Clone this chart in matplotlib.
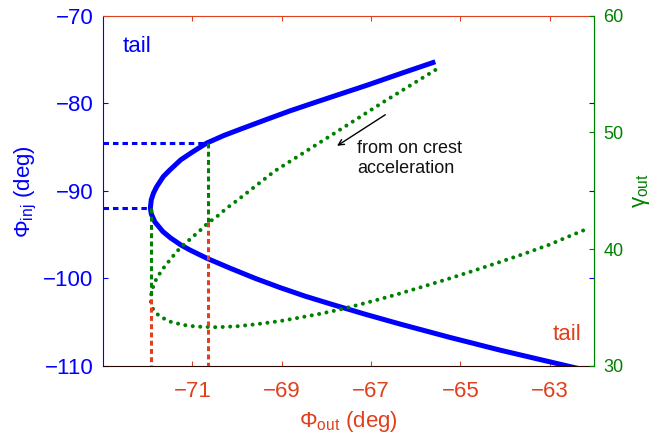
import matplotlib
matplotlib.use("Agg")
import matplotlib.pyplot as plt

plt.rcParams["font.family"] = "Liberation Sans"
plt.rcParams["mathtext.fontset"] = "custom"
plt.rcParams["mathtext.rm"] = "Liberation Sans"
plt.rcParams["mathtext.it"] = "Liberation Sans:italic"
plt.rcParams["mathtext.bf"] = "Liberation Sans:bold"

BLUE = "#0000ff"
GREEN = "#008000"
RED = "#e0401e"

# injection phase vs output phase (blue curve)
phi_out_blue = [-65.56, -66.35, -67.09, -67.69, -68.21, -68.81, -69.33, -69.93,
                -70.31, -70.68, -70.99, -71.26, -71.50, -71.65, -71.80, -71.87,
                -71.92, -71.94, -71.92, -71.84, -71.66, -71.49, -71.26, -71.06,
                -70.68, -70.16, -69.60, -69.04, -68.48, -67.91, -67.13, -66.35,
                -65.23, -64.11, -62.60, -62.18]
phi_inj_blue = [-75.26, -76.63, -77.94, -78.95, -79.83, -80.86, -81.83, -82.97,
                -83.71, -84.55, -85.54, -86.46, -87.60, -88.37, -89.54, -90.26,
                -91.03, -91.94, -92.63, -93.54, -94.65, -95.37, -96.17, -96.74,
                -97.69, -98.82, -99.98, -101.04, -102.02, -102.91, -104.09, -105.21,
                -106.74, -108.19, -110.0, -110.5]

# output energy vs output phase (green dots)
phi_out_green = [-65.56, -66.68, -67.91, -69.15, -70.0, -70.23, -70.45, -70.64,
                 -70.83, -71.05, -71.20, -71.35, -71.50, -71.65, -71.80, -71.89,
                 -71.911, -71.927, -71.931, -71.927, -71.907, -71.873, -71.79, -71.72,
                 -71.50, -71.20, -70.90, -70.45, -70.0, -69.56, -69.03, -68.59,
                 -68.14, -67.76, -67.47, -66.94, -66.42, -65.88, -65.32, -64.75,
                 -64.18, -63.58, -63.0, -62.60, -62.19]
gamma_out = [55.35, 52.71, 49.71, 46.71, 44.17, 43.52, 42.8, 42.28,
             41.6, 40.86, 40.37, 39.8, 39.09, 38.37, 37.52, 36.66,
             36.34, 36.0, 35.74, 35.49, 35.14, 34.80, 34.46, 34.23,
             33.80, 33.51, 33.37, 33.32, 33.40, 33.58, 33.85, 34.15,
             34.47, 34.78, 35.05, 35.58, 36.13, 36.75, 37.4, 38.1,
             38.82, 39.6, 40.4, 41.05, 41.7]

# guide lines: blue curve point -> green point -> x axis
guide_phi_out = [-70.66, -71.93]
guide_phi_inj = [-84.55, -91.94]
guide_gamma = [42.3, 35.74]

x_ticks = [-71, -69, -67, -65, -63]
inj_ticks = [-110, -100, -90, -80, -70]
gamma_ticks = [30, 40, 50, 60]

fig = plt.figure(figsize=(6.57, 4.41), dpi=100)
ax = fig.add_axes([0.1568, 0.1701, 0.7478, 0.7943])
ax2 = ax.twinx()

ax.set_xlim(-73, -62)
ax.set_ylim(-110, -70)
ax2.set_ylim(30, 60)
x0 = ax.get_xlim()[0]
y_bottom = ax2.get_ylim()[0]

ax.plot(phi_out_blue, phi_inj_blue, color=BLUE, lw=3.6, solid_capstyle="butt")
ax2.plot(phi_out_green, gamma_out, color=GREEN, lw=2.9,
         ls=(0, (0.01, 1.85)), dash_capstyle="round")

to_gamma = ax.transData + ax2.transData.inverted()
for xo, pin, g in zip(guide_phi_out, guide_phi_inj, guide_gamma):
    ax.plot([x0, xo], [pin, pin], color=BLUE, lw=2.2, dashes=(1.8, 1.3))
    g_top = to_gamma.transform((xo, pin))[1]
    ax2.plot([xo, xo], [g_top, g], color=GREEN, lw=2.2, dashes=(1.6, 1.1))
    ax2.plot([xo, xo], [g, y_bottom], color=RED, lw=2.2, dashes=(1.6, 1.1))

ax.text(-72.55, -74.11, "tail", color=BLUE, fontsize=16, va="baseline")
ax.text(-62.93, -107.03, "tail", color=RED, fontsize=16, va="baseline")
ax.text(-67.31, -85.69, "from on crest", fontsize=13, va="baseline", color="#111111")
ax.text(-67.31, -87.91, "acceleration", fontsize=13, va="baseline", color="#111111")
ax.annotate("", xy=(-67.76, -84.86), xytext=(-66.68, -81.31),
            arrowprops=dict(arrowstyle="->", lw=1.0, color="black",
                            shrinkA=0, shrinkB=0, mutation_scale=10))

ax.set_xticks(x_ticks)
ax.set_yticks(inj_ticks)
ax2.set_yticks(gamma_ticks)
ax.tick_params(axis="x", direction="in", top=True, colors=RED, labelsize=16,
               length=3.3, pad=11)
ax.tick_params(axis="y", direction="in", right=True, colors=BLUE, labelsize=16,
               length=3.3, pad=7)
ax2.tick_params(axis="y", direction="in", colors=GREEN, labelsize=13,
                length=3.3, pad=6.5)

ax.spines["top"].set_color(RED)
ax.spines["bottom"].set_color("#200800")
ax.spines["left"].set_color(BLUE)
ax.spines["right"].set_color(GREEN)
for s in ["left", "top", "bottom"]:
    ax2.spines[s].set_visible(False)
ax2.spines["right"].set_color(GREEN)

fig.text(30 / 657, 1 - 192 / 441, r"$\Phi_{\mathrm{inj}}$ (deg)", rotation=90,
         rotation_mode="anchor", ha="center", va="baseline", color=BLUE, fontsize=16)
fig.text(348.5 / 657, 1 - 427 / 441, r"$\Phi_{\mathrm{out}}$ (deg)",
         ha="center", va="baseline", color=RED, fontsize=16)
fig.text(645 / 657, 1 - 191 / 441, r"$\mathrm{\gamma}_{\mathrm{out}}$", rotation=90,
         rotation_mode="anchor", ha="center", va="baseline", color=GREEN, fontsize=16)

fig.savefig("out.png", dpi=100)
